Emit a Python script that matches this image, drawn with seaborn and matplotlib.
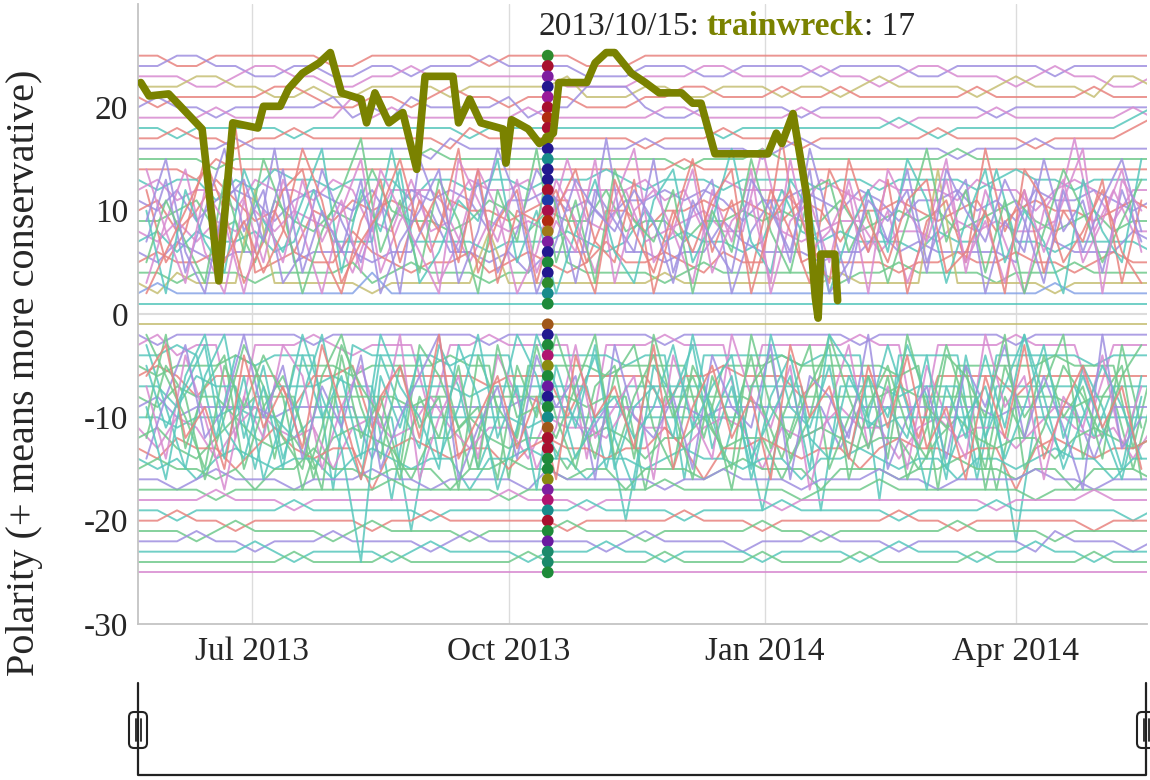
import pandas as pd
import matplotlib.pyplot as plt
import numpy as np
import seaborn as sns
from matplotlib.patches import FancyBboxPatch

# ---- data ----
# weekly ranks of the steady words, starting 2013-05-21 (positive half, rank 25 -> 1)
start = pd.Timestamp('2013-05-21')
pos_ranks = [
    [25,25,24,24,25,25,25,25,25,25,24,24,25,25,25,25,25,25,24,25,25,25,25,24,24,24,25,25,25,25,25,25,25,25,25,25,25,25,25,25,25,25,25,25,25,25,25,25,25,25,25,25,25],
    [24,24,25,25,24,24,23,23,24,24,23,23,24,24,23,24,24,24,25,24,24,24,24,23,23,23,24,24,24,23,23,24,24,24,24,23,24,24,24,24,23,23,24,24,24,24,24,23,24,24,24,24,24],
    [23,23,23,22,22,23,24,24,23,23,22,22,23,23,24,23,23,23,23,23,23,23,22,22,22,22,23,23,23,24,24,23,23,23,23,24,23,23,22,23,24,24,23,23,23,22,23,24,23,23,22,22,23],
    [22,22,22,23,23,22,22,21,21,22,21,21,22,22,22,22,21,22,22,22,22,22,23,21,21,21,22,22,21,21,22,22,22,21,22,22,21,22,23,22,22,22,22,21,22,23,22,22,22,21,23,23,22],
    [21,20,21,21,21,21,21,22,22,21,20,20,21,21,20,21,22,21,21,20,21,21,21,20,20,20,21,21,22,22,21,21,21,22,21,21,22,21,21,21,21,21,21,22,21,21,21,21,21,22,21,21,21],
    [20,21,20,20,19,20,20,20,20,20,21,19,20,19,21,20,20,20,20,21,19,20,20,22,22,22,20,19,19,20,20,20,20,20,19,20,20,20,20,20,20,20,20,20,19,20,20,20,20,20,20,20,20],
    [19,19,19,19,20,19,19,19,19,19,19,21,19,20,19,19,19,19,19,19,20,19,19,19,19,19,19,20,20,19,19,19,19,19,20,19,19,19,19,18,19,19,19,19,20,19,19,19,19,19,19,20,19],
    [18,18,17,18,18,18,18,18,17,18,18,18,18,18,18,18,18,17,18,18,18,18,18,18,18,18,18,18,18,18,17,18,18,18,18,18,18,18,18,19,18,17,18,18,18,18,18,18,18,18,18,19,20],
    [17,17,18,17,17,16,17,17,18,17,17,17,17,17,17,17,16,18,17,17,17,17,17,17,17,17,16,17,17,17,18,17,17,17,16,17,17,17,17,17,17,18,17,17,17,17,16,17,17,17,17,18,19],
    [16,16,16,16,16,17,16,16,16,16,16,16,16,16,16,15,17,16,16,16,16,16,16,16,16,16,17,16,16,16,16,16,15,16,17,16,16,16,16,16,16,16,15,16,16,16,17,16,16,16,16,16,16],
    [15,15,15,15,14,15,15,15,15,15,15,15,15,15,15,16,15,15,15,15,15,15,15,15,15,15,15,15,14,15,15,15,16,15,15,15,15,15,15,15,15,15,16,15,15,15,15,15,15,15,15,15,15],
    [14,14,14,13,15,14,14,14,14,14,14,14,14,14,14,14,14,14,14,14,14,14,14,14,14,14,14,14,15,14,14,14,14,14,14,14,14,14,14,14,14,14,14,14,14,14,14,14,14,14,14,14,14],
    [13,12,13,13,11,13,12,14,13,13,12,13,13,13,11,13,13,12,13,13,12,13,13,13,14,13,12,13,13,13,12,13,13,13,13,12,13,13,12,13,13,13,13,12,13,14,13,13,12,13,13,13,13],
    [12,13,11,12,12,10,13,12,12,11,13,12,8,12,12,12,10,13,12,12,13,9,12,12,12,12,13,11,12,8,13,12,12,12,10,13,12,11,13,12,12,12,11,13,12,12,10,12,13,12,9,12,12],
    [11,10,12,9,11,12,11,9,11,12,11,10,12,9,12,11,12,11,8,11,11,12,10,11,9,11,11,12,11,12,11,9,11,11,12,11,10,12,11,9,11,11,12,10,11,9,12,11,11,12,11,10,11],
    [10,11,8,10,13,11,9,10,6,10,9,11,10,11,10,6,11,10,10,9,10,11,11,5,10,10,8,10,10,11,10,11,10,9,11,10,7,10,10,11,10,9,10,11,8,10,11,10,10,9,10,11,10],
    [9,9,10,11,8,9,5,11,9,8,10,9,14,10,9,9,8,9,11,10,8,10,9,9,12,8,9,9,7,9,9,10,9,10,9,9,11,8,9,10,9,10,8,9,10,11,9,8,9,10,8,9,9],
    [8,7,9,7,9,8,10,8,10,9,8,4,9,8,13,8,9,5,9,8,9,8,15,9,8,12,7,8,9,10,8,8,16,8,7,8,9,9,6,8,8,7,9,8,9,8,8,9,17,8,12,8,8],
    [7,8,6,8,7,7,8,6,7,12,7,7,7,16,7,7,7,7,6,7,7,7,8,7,6,7,10,7,8,7,7,6,7,12,8,7,8,7,7,7,6,8,7,7,14,7,7,6,7,7,7,7,6],
    [6,5,7,6,5,6,6,16,5,6,6,6,5,6,6,10,6,6,5,6,4,6,6,6,17,6,6,5,6,6,9,7,6,6,6,5,6,6,8,6,7,6,6,6,6,5,13,7,6,6,6,8,7],
    [5,6,5,5,6,18,4,5,6,5,5,8,6,5,4,5,5,6,4,5,6,5,4,5,7,5,5,6,5,4,6,5,5,17,5,6,5,5,5,4,5,5,6,5,5,6,5,5,4,5,6,5,5],
    [4,4,3,4,4,4,3,4,4,4,4,5,3,4,5,4,4,4,3,4,4,14,5,4,4,4,4,3,4,5,4,4,4,4,4,4,3,4,4,5,4,4,4,4,3,4,4,4,5,4,4,4,4],
    [3,2,4,3,3,3,12,3,3,3,3,3,2,3,3,3,3,3,8,3,3,3,3,3,3,3,3,4,3,3,3,3,3,3,3,3,4,3,3,3,3,14,3,3,3,3,3,2,3,3,3,3,3],
    [2,3,2,2,2,2,2,2,2,2,2,2,4,2,2,2,2,2,2,2,2,2,2,2,2,2,2,2,2,2,2,2,2,2,2,2,2,2,2,2,2,2,2,2,2,2,2,3,2,2,2,2,2],
    [1,1,1,1,1,1,1,1,1,1,1,1,1,1,1,1,1,1,1,1,1,1,1,1,1,1,1,1,1,1,1,1,1,1,1,1,1,1,1,1,1,1,1,1,1,1,1,1,1,1,1,1,1,1],
]
# negative half, rank -1 -> -25
neg_ranks = [
    [-1,-1,-1,-1,-1,-1,-1,-1,-1,-1,-1,-1,-1,-1,-1,-1,-1,-1,-1,-1,-1,-1,-1,-1,-1,-1,-1,-1,-1,-1,-1,-1,-1,-1,-1,-1,-1,-1,-1,-1,-1,-1,-1,-1,-1,-1,-1,-1,-1,-1,-1,-1,-1],
    [-2,-3,-2,-2,-2,-2,-2,-2,-2,-3,-2,-2,-2,-2,-2,-2,-2,-2,-3,-2,-2,-2,-2,-2,-2,-2,-2,-3,-2,-2,-2,-2,-2,-2,-2,-2,-2,-3,-2,-2,-2,-2,-2,-2,-2,-3,-2,-2,-2,-2,-2,-2,-2],
    [-3,-2,-4,-3,-3,-12,-3,-3,-3,-2,-3,-4,-3,-3,-3,-10,-3,-3,-2,-3,-3,-3,-3,-14,-3,-3,-3,-2,-3,-3,-3,-11,-3,-3,-3,-3,-3,-2,-3,-3,-13,-3,-3,-3,-3,-2,-3,-3,-3,-9,-3,-3,-3],
    [-4,-4,-3,-4,-12,-4,-5,-4,-4,-4,-17,-3,-4,-4,-4,-4,-5,-4,-4,-4,-13,-4,-4,-4,-4,-5,-4,-4,-16,-4,-4,-4,-4,-4,-5,-4,-4,-4,-18,-4,-4,-4,-4,-15,-4,-4,-4,-4,-4,-5,-4,-4,-4],
    [-5,-6,-5,-5,-5,-4,-5,-14,-5,-5,-5,-6,-5,-5,-5,-5,-4,-5,-5,-16,-5,-5,-5,-5,-6,-5,-5,-5,-5,-12,-5,-5,-5,-4,-5,-5,-5,-5,-5,-6,-5,-17,-5,-5,-5,-5,-5,-4,-5,-5,-5,-13,-5],
    [-6,-5,-6,-8,-6,-6,-6,-6,-9,-6,-6,-5,-11,-6,-6,-6,-6,-6,-7,-6,-6,-6,-10,-6,-6,-6,-6,-9,-6,-6,-5,-6,-6,-6,-8,-6,-6,-6,-6,-6,-12,-6,-6,-6,-6,-8,-6,-6,-6,-6,-6,-6,-6],
    [-7,-7,-9,-6,-7,-7,-15,-7,-7,-7,-6,-7,-7,-18,-7,-7,-7,-8,-7,-7,-7,-7,-7,-7,-15,-7,-7,-7,-7,-7,-14,-7,-7,-7,-7,-19,-7,-7,-7,-8,-7,-7,-7,-16,-7,-7,-7,-7,-7,-12,-7,-7,-7],
    [-8,-9,-7,-8,-8,-10,-8,-8,-8,-16,-8,-8,-8,-8,-9,-8,-8,-15,-8,-8,-8,-8,-8,-9,-8,-8,-17,-8,-8,-8,-8,-8,-9,-14,-8,-8,-8,-8,-8,-7,-8,-8,-8,-8,-17,-8,-8,-8,-9,-8,-8,-15,-8],
    [-9,-8,-10,-9,-9,-9,-9,-10,-9,-9,-9,-9,-14,-9,-9,-9,-9,-9,-9,-9,-8,-9,-9,-12,-9,-9,-9,-9,-9,-10,-9,-9,-9,-9,-9,-9,-13,-9,-9,-9,-9,-9,-9,-9,-10,-9,-9,-9,-9,-14,-9,-9,-9],
    [-10,-10,-11,-10,-10,-9,-10,-10,-12,-10,-10,-10,-10,-10,-21,-10,-10,-10,-10,-10,-11,-10,-10,-10,-10,-20,-10,-10,-10,-10,-10,-10,-19,-10,-10,-10,-10,-10,-11,-10,-10,-10,-10,-10,-10,-22,-10,-10,-10,-10,-10,-10,-10],
    [-11,-13,-10,-11,-14,-11,-9,-11,-12,-11,-15,-11,-10,-12,-11,-8,-11,-13,-11,-11,-14,-10,-11,-11,-12,-9,-11,-11,-13,-11,-10,-11,-15,-11,-12,-11,-9,-11,-11,-14,-11,-10,-12,-11,-11,-13,-11,-9,-11,-12,-11,-14,-11],
    [-12,-11,-13,-14,-12,-10,-12,-13,-12,-15,-12,-11,-12,-13,-16,-12,-12,-10,-12,-13,-12,-12,-15,-12,-11,-12,-14,-12,-12,-10,-13,-12,-12,-16,-12,-11,-12,-13,-12,-12,-15,-12,-10,-12,-13,-12,-12,-14,-12,-11,-12,-13,-12],
    [-13,-14,-12,-13,-13,-15,-13,-11,-13,-14,-13,-13,-17,-13,-12,-13,-14,-13,-13,-15,-13,-12,-13,-13,-14,-13,-13,-11,-13,-16,-13,-13,-12,-13,-14,-13,-13,-15,-13,-12,-13,-13,-14,-13,-13,-17,-13,-12,-13,-14,-13,-13,-12],
    [-14,-15,-14,-16,-14,-13,-14,-15,-14,-14,-16,-14,-13,-14,-15,-14,-14,-17,-14,-14,-13,-14,-14,-16,-14,-14,-15,-14,-13,-14,-14,-15,-14,-14,-16,-14,-14,-13,-14,-15,-14,-14,-16,-14,-14,-15,-14,-13,-14,-14,-16,-14,-14],
    [-15,-14,-15,-15,-16,-15,-17,-15,-15,-13,-15,-15,-16,-15,-15,-15,-17,-15,-15,-14,-15,-15,-16,-15,-15,-17,-15,-15,-15,-16,-15,-14,-15,-15,-15,-17,-15,-15,-15,-16,-15,-15,-14,-15,-15,-16,-15,-15,-17,-15,-15,-15,-16],
    [-16,-16,-17,-16,-15,-16,-16,-16,-17,-16,-16,-16,-15,-16,-16,-17,-16,-16,-16,-16,-17,-15,-16,-16,-16,-16,-16,-17,-16,-16,-15,-16,-16,-16,-17,-16,-16,-16,-15,-16,-16,-17,-16,-16,-16,-16,-15,-16,-16,-17,-16,-16,-16],
    [-17,-17,-17,-17,-18,-17,-17,-17,-17,-17,-17,-17,-17,-16,-17,-17,-17,-17,-17,-18,-17,-17,-17,-17,-17,-17,-17,-16,-17,-17,-17,-17,-17,-17,-18,-17,-17,-17,-16,-17,-17,-17,-17,-17,-17,-17,-18,-17,-17,-17,-17,-17,-17],
    [-18,-18,-18,-18,-17,-18,-18,-18,-19,-18,-18,-18,-18,-18,-18,-18,-18,-18,-18,-17,-18,-18,-18,-19,-18,-18,-18,-18,-18,-18,-18,-18,-18,-19,-18,-18,-18,-18,-18,-18,-18,-18,-18,-18,-19,-18,-18,-18,-18,-17,-18,-18,-18],
    [-19,-19,-20,-19,-19,-19,-19,-19,-18,-19,-19,-19,-19,-19,-19,-20,-19,-19,-19,-19,-19,-19,-19,-18,-19,-19,-19,-19,-20,-19,-19,-19,-19,-18,-19,-19,-19,-19,-19,-20,-19,-19,-19,-19,-18,-19,-19,-19,-19,-19,-19,-20,-19],
    [-20,-20,-19,-20,-20,-21,-20,-20,-20,-20,-20,-20,-21,-20,-20,-19,-20,-20,-20,-20,-20,-20,-21,-20,-20,-20,-20,-20,-19,-20,-20,-20,-21,-20,-20,-20,-20,-20,-20,-19,-20,-20,-21,-20,-20,-20,-20,-20,-20,-21,-20,-20,-20],
    [-21,-21,-21,-22,-21,-20,-21,-21,-21,-21,-22,-21,-20,-21,-21,-21,-21,-22,-21,-21,-21,-21,-20,-21,-21,-21,-22,-21,-21,-21,-21,-21,-20,-21,-21,-22,-21,-21,-21,-21,-21,-21,-20,-21,-21,-21,-21,-22,-21,-21,-21,-21,-21],
    [-22,-22,-22,-21,-22,-22,-23,-22,-22,-22,-21,-22,-22,-22,-22,-23,-22,-21,-22,-22,-22,-22,-22,-22,-23,-22,-21,-22,-22,-22,-22,-23,-22,-22,-22,-21,-22,-22,-22,-23,-22,-22,-22,-22,-22,-22,-23,-21,-22,-22,-22,-23,-22],
    [-23,-23,-23,-23,-23,-23,-22,-23,-24,-23,-23,-23,-23,-24,-23,-22,-23,-23,-23,-23,-24,-23,-23,-23,-22,-23,-23,-24,-23,-23,-23,-23,-24,-23,-23,-23,-23,-24,-23,-22,-23,-23,-23,-24,-23,-23,-22,-23,-23,-24,-23,-23,-23],
    [-24,-24,-24,-24,-24,-24,-24,-24,-23,-24,-24,-24,-24,-23,-24,-24,-24,-24,-24,-24,-23,-24,-24,-24,-24,-24,-24,-23,-24,-24,-24,-24,-23,-24,-24,-24,-24,-23,-24,-24,-24,-24,-24,-23,-24,-24,-24,-24,-24,-23,-24,-24,-24],
    [-25,-25,-25,-25,-25,-25,-25,-25,-25,-25,-25,-25,-25,-25,-25,-25,-25,-25,-25,-25,-25,-25,-25,-25,-25,-25,-25,-25,-25,-25,-25,-25,-25,-25,-25,-25,-25,-25,-25,-25,-25,-25,-25,-25,-25,-25,-25,-25,-25,-25,-25,-25,-25],
]

# volatile words that jump in and out of the lower ranks (weekly, from 2013-05-24)
start_volatile = pd.Timestamp('2013-05-24')
pos_volatile = [
    [3,9,14,6,2,11,5,13,8,2,10,15,4,9,12,3,7,14,10,2,6,13,9,4,11,16,5,8,3,12,7,14,2,9,11,5,13,6,10,3,8,15,4,12,7,2,10,13,5,9,14,6],
    [12,5,8,15,10,3,7,12,14,6,2,9,13,5,11,8,16,4,9,12,3,10,14,7,5,13,2,9,15,6,11,4,12,8,3,14,10,6,13,2,9,11,5,16,8,12,4,10,7,13,3,11],
    [7,13,4,10,16,8,12,3,6,14,9,5,11,2,15,10,6,13,4,8,14,11,3,12,9,6,15,4,10,13,2,8,11,5,16,9,3,12,7,14,5,10,13,2,9,6,15,8,11,4,12,7],
    [10,2,12,7,4,14,9,6,11,16,4,12,8,14,3,6,11,9,15,5,10,2,8,13,6,3,11,14,5,9,16,7,4,13,10,2,8,12,6,15,11,3,9,14,5,10,7,2,13,8,5,15],
    [5,11,7,3,13,6,15,10,2,8,12,17,6,11,4,13,9,2,12,7,16,5,11,3,14,9,7,12,2,10,6,15,8,4,12,13,6,10,3,9,16,7,12,4,11,2,8,14,10,5,9,13],
    [14,8,3,12,9,2,10,5,13,7,11,4,14,10,6,2,15,11,7,13,4,9,6,15,3,10,12,8,14,4,9,11,3,15,6,8,12,2,14,10,7,13,5,9,3,12,6,11,16,2,13,10],
    [2,6,10,14,5,9,4,8,16,11,3,7,10,15,8,12,5,14,3,10,9,12,7,2,13,8,4,10,6,11,14,2,9,12,7,3,15,9,5,11,13,4,6,10,2,14,11,5,8,12,6,3],
    [9,15,6,2,11,13,7,14,4,10,6,13,2,7,10,14,3,8,16,11,2,7,13,10,8,12,9,3,11,7,4,13,10,6,14,2,5,11,9,12,4,14,10,7,13,9,3,12,6,11,15,8],
]
neg_volatile = [
    [-3,-9,-15,-6,-2,-12,-5,-14,-8,-2,-11,-16,-4,-9,-13,-3,-7,-15,-10,-2,-6,-14,-9,-4,-12,-17,-5,-8,-3,-13,-7,-15,-2,-9,-11,-5,-14,-6,-10,-3,-8,-16,-4,-12,-7,-2,-10,-14,-5,-9,-15,-6],
    [-12,-5,-8,-16,-10,-3,-7,-12,-15,-6,-2,-9,-14,-5,-11,-8,-17,-4,-9,-12,-3,-10,-15,-7,-5,-14,-2,-9,-16,-6,-11,-4,-13,-8,-3,-15,-10,-6,-14,-2,-9,-11,-5,-17,-8,-12,-4,-10,-7,-14,-3,-11],
    [-7,-14,-4,-10,-17,-8,-12,-3,-6,-15,-9,-5,-11,-2,-16,-10,-6,-14,-4,-8,-15,-11,-3,-12,-9,-6,-16,-4,-10,-14,-2,-8,-11,-5,-17,-9,-3,-13,-7,-15,-5,-10,-14,-2,-9,-6,-16,-8,-11,-4,-13,-7],
    [-10,-2,-13,-7,-4,-15,-9,-6,-11,-17,-4,-12,-8,-15,-3,-6,-11,-9,-16,-5,-10,-2,-8,-14,-6,-3,-11,-15,-5,-9,-17,-7,-4,-14,-10,-2,-8,-13,-6,-16,-11,-3,-9,-15,-5,-10,-7,-2,-14,-8,-5,-16],
    [-5,-11,-7,-3,-14,-6,-16,-10,-2,-8,-13,-24,-6,-11,-4,-14,-9,-2,-12,-7,-17,-5,-11,-3,-15,-9,-7,-12,-2,-10,-6,-16,-8,-4,-12,-14,-6,-10,-3,-9,-17,-7,-12,-4,-11,-2,-8,-15,-10,-5,-9,-14],
    [-14,-8,-3,-12,-9,-2,-10,-5,-14,-7,-11,-4,-15,-10,-6,-2,-16,-11,-7,-14,-4,-9,-6,-16,-3,-10,-12,-8,-15,-4,-9,-11,-3,-16,-6,-8,-12,-2,-15,-10,-7,-14,-5,-9,-3,-12,-6,-11,-17,-2,-13,-10],
    [-2,-6,-10,-15,-5,-9,-4,-8,-17,-11,-3,-7,-10,-16,-8,-12,-5,-15,-3,-10,-9,-12,-7,-2,-14,-8,-4,-10,-6,-11,-15,-2,-9,-12,-7,-3,-16,-9,-5,-11,-14,-4,-6,-10,-2,-15,-11,-5,-8,-12,-6,-3],
    [-9,-16,-6,-2,-11,-14,-7,-15,-4,-10,-6,-14,-2,-7,-10,-15,-3,-8,-17,-11,-2,-7,-14,-10,-8,-12,-9,-3,-11,-7,-4,-14,-10,-6,-15,-2,-5,-11,-9,-12,-4,-15,-10,-7,-14,-9,-3,-12,-6,-11,-16,-8],
    [-6,-3,-12,-9,-15,-4,-11,-7,-13,-3,-9,-16,-8,-5,-12,-2,-14,-10,-6,-13,-8,-16,-4,-10,-7,-13,-3,-15,-9,-5,-12,-8,-16,-3,-10,-7,-14,-5,-11,-4,-13,-9,-16,-6,-12,-3,-14,-9,-5,-11,-7,-15],
]

# line colours (pastel) for each word row
pos_colors = ['red', 'purple', 'pink', 'olive', 'red', 'purple', 'pink', 'teal', 'red', 'purple',
              'green', 'red', 'teal', 'pink', 'purple', 'red', 'green', 'pink', 'teal', 'purple',
              'red', 'green', 'olive', 'blue', 'teal']
neg_colors = ['olive', 'purple', 'pink', 'teal', 'green', 'red', 'teal', 'green', 'purple', 'teal',
              'pink', 'green', 'red', 'teal', 'green', 'purple', 'green', 'pink', 'teal', 'red',
              'green', 'purple', 'teal', 'green', 'pink']
pos_volatile_colors = ['pink', 'red', 'purple', 'teal', 'green', 'pink', 'red', 'purple']
neg_volatile_colors = ['teal', 'green', 'pink', 'green', 'teal', 'purple', 'green', 'teal', 'red']
pastel = {'red': '#e8837f', 'purple': '#9f8fe0', 'pink': '#d88bd0', 'olive': '#c6bf74',
          'teal': '#58c7bc', 'green': '#70c98c', 'blue': '#87a4e6'}

# highlighted word
hl_word = 'trainwreck'
hl_dates = ['2013-05-22', '2013-05-25', '2013-06-01', '2013-06-13', '2013-06-19', '2013-06-24',
            '2013-07-03', '2013-07-05', '2013-07-11', '2013-07-14', '2013-07-19', '2013-07-25',
            '2013-07-29', '2013-08-02', '2013-08-09', '2013-08-11', '2013-08-14', '2013-08-19',
            '2013-08-24', '2013-08-29', '2013-09-01', '2013-09-11', '2013-09-13', '2013-09-17',
            '2013-09-21', '2013-09-29', '2013-09-30', '2013-10-02', '2013-10-08', '2013-10-12',
            '2013-10-15', '2013-10-17', '2013-10-19', '2013-10-29', '2013-11-01', '2013-11-05',
            '2013-11-08', '2013-11-11', '2013-11-14', '2013-11-19', '2013-11-24', '2013-12-02',
            '2013-12-06', '2013-12-09', '2013-12-14', '2014-01-02', '2014-01-05', '2014-01-07',
            '2014-01-11', '2014-01-16', '2014-01-19', '2014-01-20', '2014-01-21', '2014-01-26',
            '2014-01-27']
hl_values = [22.4, 21.1, 21.3, 17.9, 3.2, 18.5, 18.0, 20.1, 20.1, 21.8, 23.3, 24.3, 25.3, 21.4,
             20.8, 18.5, 21.4, 18.5, 19.5, 14.0, 23.0, 23.0, 18.5, 20.8, 18.5, 17.9, 14.6, 18.8,
             17.9, 16.5, 17.0, 17.5, 22.4, 22.4, 24.3, 25.3, 25.3, 24.3, 23.3, 22.4, 21.4, 21.4,
             20.4, 20.4, 15.5, 15.5, 17.5, 16.5, 19.4, 11.3, 1.6, -0.4, 5.8, 5.8, 1.3]
hl_color = '#7a8200'

# hover column on 2013/10/15
hover_date = '2013-10-15'
hover_value = 17
dot_ranks = [25, 24, 23, 22, 21, 20, 19, 18, 17, 16, 15, 14, 13, 12, 11, 10, 9, 8, 7, 6, 5, 4, 3, 2, 1,
             -1, -2, -3, -4, -5, -6, -7, -8, -9, -10, -11, -12, -13, -14, -15, -16, -17, -18, -19, -20,
             -21, -22, -23, -24, -25]
dot_colors = ['#2e8b2e', '#a8102e', '#7e1ea0', '#22188f', '#9a1a9a', '#a8102e', '#b02a10', '#a8102e',
              '#7a8200', '#22188f', '#178b8b', '#22188f', '#22188f', '#a8102e', '#1c3aa8', '#a8104a',
              '#b02a10', '#a07818', '#7e1ea0', '#22188f', '#1e8a3a', '#22188f', '#2e8b2e', '#178b8b',
              '#1e8a3a',
              '#a0581a', '#22188f', '#1e8a3a', '#b01470', '#8a8a10', '#1e8a3a', '#6a1aa0', '#22188f',
              '#1e8a3a', '#178b8b', '#a0581a', '#a8102e', '#a8102e', '#1e8a3a', '#1e8a3a', '#8a8a10',
              '#7e1ea0', '#b01470', '#178b8b', '#a8102e', '#1e8a3a', '#6a1aa0', '#1a8a6a', '#1a8a6a',
              '#1e8a3a']

x_ticks = ['2013-07-01', '2013-10-01', '2014-01-01', '2014-04-01']
x_ticklabels = ['Jul 2013', 'Oct 2013', 'Jan 2014', 'Apr 2014']
y_ticks = [-30, -20, -10, 0, 10, 20]

# ---- long table for seaborn ----
rows = []
palette = {}
groups = (('p', start, pos_ranks, pos_colors), ('n', start, neg_ranks, neg_colors),
          ('pv', start_volatile, pos_volatile, pos_volatile_colors),
          ('nv', start_volatile, neg_volatile, neg_volatile_colors))
for tag, t0, ranks, cols in groups:
    for i, vals in enumerate(ranks):
        name = f'{tag}{i:02d}'
        palette[name] = pastel[cols[i]]
        for k, v in enumerate(vals):
            rows.append({'word': name, 'date': t0 + pd.Timedelta(days=7 * k), 'polarity': v})
bg = pd.DataFrame(rows)

hl = pd.DataFrame({'date': pd.to_datetime(hl_dates), 'polarity': hl_values})
dots = pd.DataFrame({'date': pd.to_datetime([hover_date] * len(dot_ranks)),
                     'polarity': dot_ranks,
                     'slot': [str(r) for r in dot_ranks]})

# ---- plot ----
sns.set_style('white')
plt.rcParams['font.family'] = ['Liberation Serif', 'DejaVu Serif']
plt.rcParams['axes.unicode_minus'] = False

W, H = 1150, 780
fig = plt.figure(figsize=(W / 100, H / 100), dpi=100)
ax = fig.add_axes([138 / W, 1 - 624 / H, (1147 - 138) / W, (624 - 4) / H])

sns.lineplot(data=bg, x='date', y='polarity', hue='word', palette=palette, estimator=None,
             legend=False, lw=1.4, alpha=0.85, ax=ax, zorder=2)
sns.scatterplot(data=dots, x='date', y='polarity', hue='slot', hue_order=dots['slot'],
                palette=dot_colors, s=72, linewidth=0, legend=False, ax=ax, zorder=3)
sns.lineplot(data=hl, x='date', y='polarity', color=hl_color, lw=5.5, sort=False,
             estimator=None, ax=ax, zorder=4)

ax.axhline(0, color='#dcdcdc', lw=1.5, zorder=1)
ax.set_xlim(pd.Timestamp('2013-05-21'), pd.Timestamp('2014-05-18'))
ax.set_ylim(-30, 30)
ax.set_xticks(pd.to_datetime(x_ticks))
ax.set_xticklabels(x_ticklabels)
ax.set_yticks(y_ticks)
ax.set_yticklabels([str(v) for v in y_ticks])
ax.tick_params(length=0, labelsize=24)
ax.tick_params(axis='x', pad=9)
ax.tick_params(axis='y', pad=7)
ax.grid(axis='x', color='#dcdcdc', lw=1)
ax.set_xlabel('')
ax.set_ylabel('')
for s in ('top', 'right'):
    ax.spines[s].set_visible(False)
for s in ('left', 'bottom'):
    ax.spines[s].set_color('#c4c4c4')
    ax.spines[s].set_linewidth(1.3)

fig.text(25 / W, 1 - 373 / H, 'Polarity (+ means more conservative)', rotation=90,
         ha='center', va='center', fontsize=29)

# hover caption: date, word in bold colour, value
r = fig.canvas.get_renderer()
y0 = 1 - 35 / H
t1 = fig.text(538 / W, y0, hover_date.replace('-', '/') + ':', fontsize=24, va='baseline')
x1 = t1.get_window_extent(renderer=r).x1 + 8
t2 = fig.text(x1 / W, y0, hl_word, fontsize=24, va='baseline', weight='bold', color=hl_color)
x2 = t2.get_window_extent(renderer=r).x1
fig.text(x2 / W, y0, f': {hover_value}', fontsize=24, va='baseline')

# range slider below the chart
axs = fig.add_axes([0, 0, 1, 1], zorder=5)
axs.set_xlim(0, W)
axs.set_ylim(H, 0)
axs.set_axis_off()
axs.patch.set_visible(False)
ink = '#222222'
axs.plot([138, 138, 1146, 1146], [683, 775, 775, 683], color=ink, lw=1.6)
for hx in (138, 1146):
    axs.add_patch(FancyBboxPatch((hx - 9, 712), 18, 36, boxstyle='round,pad=0,rounding_size=5',
                                 fc='white', ec=ink, lw=1.5))
    axs.plot([hx - 2.5, hx - 2.5], [719, 741], color=ink, lw=1.3)
    axs.plot([hx + 2.5, hx + 2.5], [719, 741], color=ink, lw=1.3)

fig.savefig('out.png', dpi=100)
